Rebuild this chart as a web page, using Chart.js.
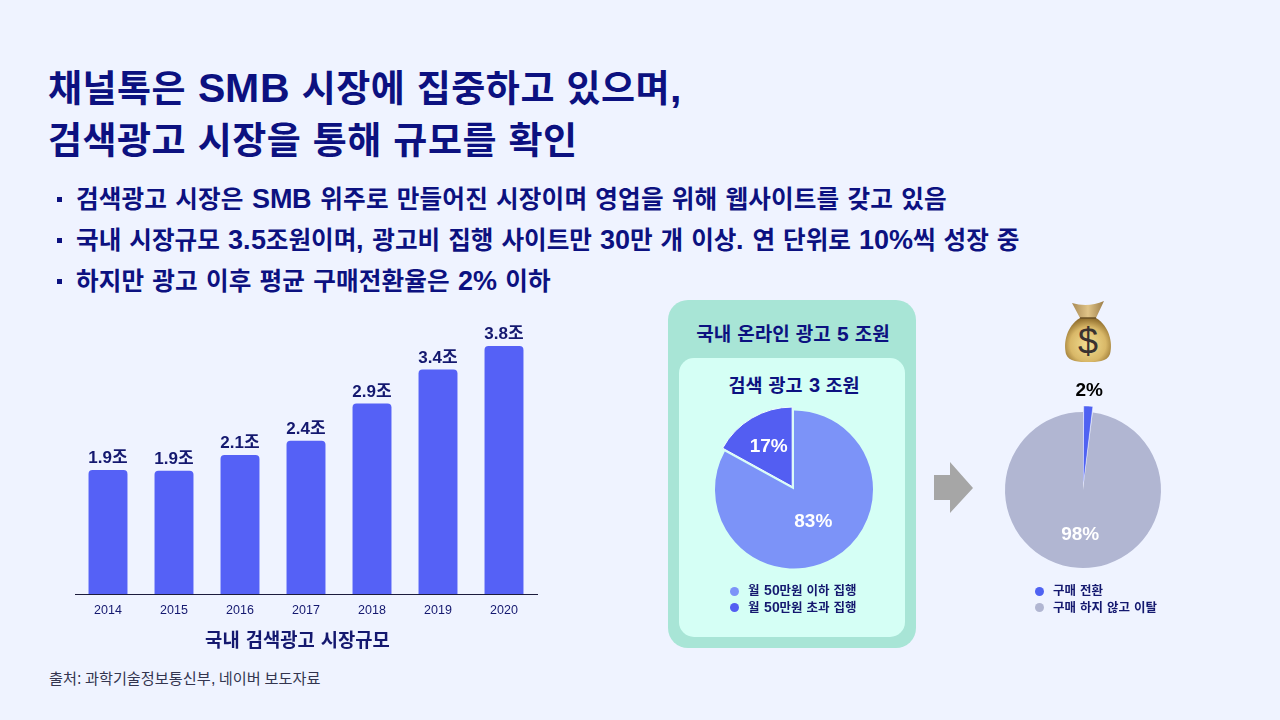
<!DOCTYPE html>
<html lang="ko">
<head>
<meta charset="utf-8">
<title>채널톡 시장규모</title>
<script src="https://cdn.jsdelivr.net/npm/chart.js@4"></script>
<style>
  @font-face {
    font-family: "LatinBig"; font-weight: 700;
    src: local("Liberation Sans Bold");
    size-adjust: 110%;
  }
  @font-face {
    font-family: "LatinBig"; font-weight: 400;
    src: local("Liberation Sans");
    size-adjust: 105%;
  }
  html, body { margin: 0; padding: 0; }
  body {
    width: 1280px; height: 720px; position: relative; overflow: hidden;
    background: #eff3ff; color: #0c1180;
    font-family: "LatinBig", "Liberation Sans", "Noto Sans CJK KR", sans-serif;
  }
  .abs { position: absolute; white-space: nowrap; }
  .title { left: 48px; font-size: 37px; font-weight: 700; line-height: 50px; letter-spacing: 0.5px; }
  .bullet { left: 76px; font-size: 24.6px; font-weight: 700; line-height: 30px; }
  .bullet::before {
    content: ""; position: absolute; left: -19px; top: 13px;
    width: 5px; height: 5px; background: #0c1180;
  }
  #panelOuter { left: 668px; top: 300px; width: 248px; height: 348px; background: #a8e5d6; border-radius: 20px; }
  #panelInner { left: 679px; top: 358px; width: 226px; height: 279px; background: #d5fff5; border-radius: 15px; }
  .panelTitle { font-weight: 700; text-align: center; transform: translateX(-50%); }
  .legend { font-size: 12.5px; font-weight: 700; line-height: 16.5px; color: #14186f; }
  .legend i {
    display: inline-block; width: 9px; height: 9px; border-radius: 50%;
    margin-right: 9px; vertical-align: -0.5px;
  }
  #axisTitle { left: 297.5px; top: 625px; font-size: 18.8px; color: #14186f; }
  canvas { position: absolute; }
</style>
</head>
<body>
<div class="abs title" style="top:63px">채널톡은 SMB 시장에 집중하고 있으며,</div>
<div class="abs title" style="top:115px">검색광고 시장을 통해 규모를 확인</div>
<div class="abs bullet" style="top:184px;letter-spacing:0.15px">검색광고 시장은 SMB 위주로 만들어진 시장이며 영업을 위해 웹사이트를 갖고 있음</div>
<div class="abs bullet" style="top:225px">국내 시장규모 3.5조원이며, 광고비 집행 사이트만 30만 개 이상. 연 단위로 10%씩 성장 중</div>
<div class="abs bullet" style="top:266px;letter-spacing:0.12px">하지만 광고 이후 평균 구매전환율은 2% 이하</div>

<div class="abs" id="panelOuter"></div>
<div class="abs" id="panelInner"></div>
<div class="abs panelTitle" style="left:793px;top:319px;font-size:19px">국내 온라인 광고 5 조원</div>
<div class="abs panelTitle" style="left:794px;top:371px;font-size:18.5px">검색 광고 3 조원</div>

<canvas id="barChart" style="left:50px;top:320px"></canvas>
<div class="abs panelTitle" id="axisTitle"></div>
<canvas id="pieSearch" style="left:694px;top:389px"></canvas>
<canvas id="pieConvert" style="left:973px;top:380px"></canvas>

<div class="abs legend" id="legendSearch" style="left:730px;top:583px"></div>
<div class="abs legend" id="legendConvert" style="left:1035px;top:583px"></div>

<!-- arrow -->
<svg class="abs" style="left:934px;top:462px" width="40" height="52">
  <polygon points="0,13 16,13 16,0 39,26 16,51 16,38 0,38" fill="#a6a6a6"/>
</svg>

<!-- money bag -->
<svg class="abs" style="left:1063px;top:300px" width="50" height="64" viewBox="0 0 50 64">
  <defs>
    <radialGradient id="bag" cx="0.5" cy="0.6" r="0.6">
      <stop offset="0" stop-color="#f3df93"/>
      <stop offset="0.65" stop-color="#d9b868"/>
      <stop offset="1" stop-color="#8f6d2c"/>
    </radialGradient>
    <linearGradient id="neck" x1="0" y1="0" x2="1" y2="0">
      <stop offset="0" stop-color="#a98a55"/>
      <stop offset="0.5" stop-color="#e0c488"/>
      <stop offset="1" stop-color="#9c7d48"/>
    </linearGradient>
  </defs>
  <path d="M9 3 Q25 8 41 1 L33 18 H17 Z" fill="url(#neck)"/>
  <path d="M17 18 H33 C46 26 50 42 47 54 C44 62 34 62 25 62 C16 62 6 62 3 54 C0 42 4 26 17 18 Z" fill="url(#bag)"/>
  <path d="M17 18 H33" stroke="#6b5226" stroke-width="1.5"/>
  <text x="25" y="54" text-anchor="middle" font-size="36" font-family="Liberation Sans" fill="#3a3230">$</text>
</svg>

<div class="abs" style="left:49px;top:666px;font-size:15.2px;color:#33354f">출처: 과학기술정보통신부, 네이버 보도자료</div>

<script>
const fontFamily = '"Liberation Sans", "Noto Sans CJK KR", sans-serif';

const years = ["2014", "2015", "2016", "2017", "2018", "2019", "2020"];
const marketSize = [1.9, 1.89, 2.13, 2.35, 2.92, 3.44, 3.8];
const marketLabels = ["1.9조", "1.9조", "2.1조", "2.4조", "2.9조", "3.4조", "3.8조"];
const marketAxisTitle = "국내 검색광고 시장규모";

const searchLabels = ["월 50만원 이하 집행", "월 50만원 초과 집행"];
const searchShare = [83, 17];
const convertLabels = ["구매 전환", "구매 하지 않고 이탈"];
const convertShare = [2, 98];

// text above each bar
const barTopLabels = {
  id: "barTopLabels",
  afterDatasetsDraw(chart) {
    const { ctx } = chart;
    ctx.save();
    ctx.font = "bold 17px " + fontFamily;
    ctx.fillStyle = "#14186f";
    ctx.textAlign = "center";
    ctx.textBaseline = "alphabetic";
    chart.getDatasetMeta(0).data.forEach((bar, i) => {
      ctx.fillText(marketLabels[i], bar.x, bar.y - 7);
    });
    ctx.restore();
  },
};

// percent text on the slices, distance given as part of the radius
const sliceLabels = {
  id: "sliceLabels",
  afterDatasetsDraw(chart, args, opts) {
    const { ctx } = chart;
    const values = chart.data.datasets[0].data;
    ctx.save();
    ctx.font = "bold 19px " + fontFamily;
    ctx.textAlign = "center";
    ctx.textBaseline = "middle";
    chart.getDatasetMeta(0).data.forEach((arc, i) => {
      const mid = (arc.startAngle + arc.endAngle) / 2;
      const r = arc.outerRadius * opts.dist[i];
      const cx = chart.chartArea.left + chart.chartArea.width / 2;
      const cy = chart.chartArea.top + chart.chartArea.height / 2;
      ctx.fillStyle = opts.colors[i];
      ctx.fillText(values[i] + "%", cx + Math.cos(mid) * r, cy + Math.sin(mid) * r);
    });
    ctx.restore();
  },
};

document.getElementById("axisTitle").textContent = marketAxisTitle;

const barCanvas = document.getElementById("barChart");
barCanvas.width = 510;
barCanvas.height = 340;
new Chart(barCanvas, {
  type: "bar",
  data: {
    labels: years,
    datasets: [{
      data: marketSize,
      backgroundColor: "#5561f6",
      borderRadius: { topLeft: 4, topRight: 4 },
      borderSkipped: "bottom",
      categoryPercentage: 1,
      barPercentage: 0.59,
    }],
  },
  options: {
    responsive: false,
    animation: false,
    layout: { padding: { left: 25, right: 23, top: 0, bottom: 33 } },
    plugins: { legend: { display: false }, tooltip: { enabled: false } },
    scales: {
      y: { display: false, min: 0, max: 4.2 },
      x: {
        grid: { display: false, drawTicks: false },
        border: { color: "#1c1c3c", width: 1 },
        ticks: { color: "#14186f", font: { family: fontFamily, size: 12.5 }, padding: 9, maxRotation: 0 },
      },
    },
  },
  plugins: [barTopLabels],
});

function makePie(id, labels, values, size, opts) {
  const canvas = document.getElementById(id);
  canvas.width = size.w;
  canvas.height = size.h;
  return new Chart(canvas, {
    type: "pie",
    data: {
      labels: labels,
      datasets: [{
        data: values,
        backgroundColor: opts.colors,
        borderColor: opts.borders,
        borderWidth: opts.borderWidth,
        offset: opts.offset,
        radius: opts.radius,
      }],
    },
    options: {
      responsive: false,
      animation: false,
      plugins: {
        legend: { display: false },
        tooltip: { enabled: false },
        sliceLabels: { dist: opts.dist, colors: opts.textColors },
      },
    },
    plugins: [sliceLabels],
  });
}

const searchColors = ["#7c93f8", "#535ef2"];
const convertColors = ["#4f62f2", "#b1b6d2"];

makePie("pieSearch", searchLabels, searchShare, { w: 200, h: 201 }, {
  colors: searchColors,
  borders: ["#7c93f8", "#f2fffc"],
  borderWidth: [0, 1],
  offset: [0, 14],
  radius: 79,
  dist: [0.48, 0.63],
  textColors: ["#ffffff", "#ffffff"],
});

makePie("pieConvert", convertLabels, convertShare, { w: 220, h: 220 }, {
  colors: convertColors,
  borders: ["#ffffff", "#b1b6d2"],
  borderWidth: [0.5, 0],
  offset: [13, 0],
  radius: 78,
  dist: [1.28, 0.58],
  textColors: ["#000000", "#ffffff"],
});

function fillLegend(id, labels, colors) {
  document.getElementById(id).innerHTML = labels
    .map((t, i) => '<div><i style="background:' + colors[i] + '"></i>' + t + "</div>")
    .join("");
}
fillLegend("legendSearch", searchLabels, searchColors);
fillLegend("legendConvert", convertLabels, convertColors);
</script>
</body>
</html>
